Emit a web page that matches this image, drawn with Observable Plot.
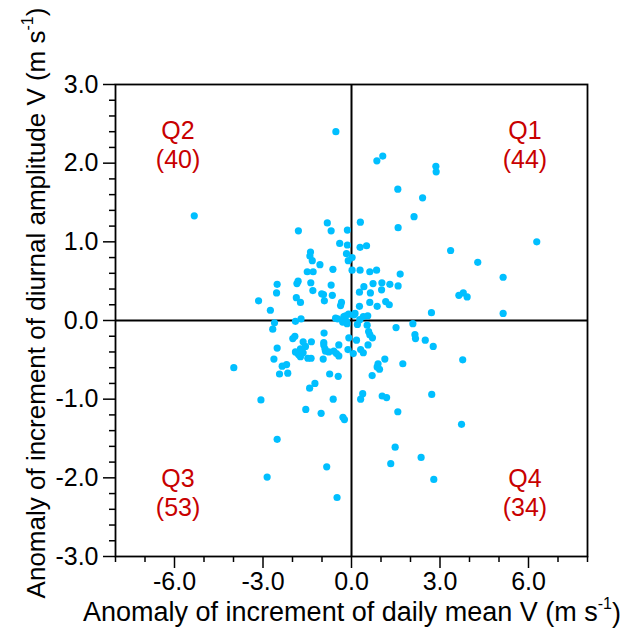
<!DOCTYPE html>
<html>
<head>
<meta charset="utf-8">
<script src="https://cdn.jsdelivr.net/npm/d3@7"></script>
<script src="https://cdn.jsdelivr.net/npm/@observablehq/plot@0.6"></script>
<style>
  html, body { margin: 0; padding: 0; background: white; }
  #chart { width: 631px; height: 632px; }
</style>
</head>
<body>
<div id="chart"></div>
<script>
// Quadrant Q1 (x>0, y>0)
const q1x = [0.86,1.06,2.86,2.87,1.57,2.41,2.12,0.30,1.58,6.28,0.29,0.51,0.02,0.02,0.29,0.62,0.85,1.65,0.42,0.73,1.03,1.30,1.58,0.27,0.64,1.02,0.62,0.87,1.16,1.28,0.27,3.36,4.28,5.14,3.64,3.79,3.92,2.71,5.14,0.08,0.28,0.40,0.55,0.12];
const q1y = [2.03,2.09,1.96,1.89,1.67,1.56,1.32,1.25,1.18,1.00,0.93,0.95,0.80,0.64,0.64,0.62,0.64,0.59,0.43,0.47,0.48,0.46,0.44,0.36,0.35,0.39,0.23,0.18,0.24,0.20,0.18,0.89,0.74,0.55,0.32,0.35,0.30,0.10,0.09,0.07,0.01,0.05,0.06,0.09];
// Quadrant Q2 (x<0, y>0)
const q2x = [-0.53,-5.33,-1.80,-0.82,-0.69,-0.14,-0.40,-0.14,-1.39,-0.17,-1.41,-1.33,-0.11,-1.07,-0.63,-1.50,-1.30,-2.52,-1.85,-1.81,-1.38,-0.69,-2.54,-1.31,-1.01,-0.95,-0.65,-3.15,-1.87,-1.73,-0.92,-0.34,-0.37,-2.75,-1.71,-0.54,-0.47,-0.20,-0.10,-0.26];
const q2y = [2.40,1.33,1.14,1.24,1.14,1.15,0.98,0.96,0.87,0.85,0.82,0.76,0.76,0.71,0.65,0.62,0.62,0.46,0.47,0.50,0.48,0.45,0.35,0.38,0.34,0.33,0.32,0.25,0.29,0.23,0.25,0.23,0.19,0.13,0.02,0.03,0.02,0.06,0.08,0.05];
// Quadrant Q3 (x<0, y<0)
const q3x = [-1.90,-0.17,-0.15,-2.61,-2.67,-0.93,-1.99,-1.92,-1.64,-1.36,-0.94,-0.94,-1.56,-1.73,-0.43,-0.09,-0.12,-1.90,-1.82,-1.73,-1.64,-1.48,-1.37,-0.88,-0.77,-0.60,-0.51,-0.43,-0.96,-2.35,-2.20,-2.44,-2.16,-0.74,-0.45,-1.24,-1.42,-0.62,-2.52,-2.63,-3.99,-3.07,-1.55,-1.03,-0.29,-0.24,-2.52,-2.86,-0.84,-0.49,-1.78,-0.90,-0.30];
const q3y = [-0.01,-0.01,-0.04,-0.03,-0.11,-0.16,-0.23,-0.20,-0.27,-0.27,-0.28,-0.31,-0.33,-0.36,-0.31,-0.22,-0.37,-0.40,-0.42,-0.46,-0.41,-0.48,-0.48,-0.39,-0.40,-0.39,-0.42,-0.45,-0.49,-0.58,-0.56,-0.68,-0.67,-0.68,-0.71,-0.80,-0.86,-1.00,-0.35,-0.49,-0.60,-1.01,-1.13,-1.18,-1.23,-1.26,-1.51,-1.99,-1.86,-2.25,-0.44,-0.36,-0.02];
// Quadrant Q4 (x>0, y<0)
const q4x = [0.53,0.58,0.62,0.71,1.51,2.08,2.15,2.17,0.17,0.06,0.31,0.40,0.56,1.13,1.74,0.90,0.87,0.95,0.70,0.38,0.31,1.04,1.19,2.50,2.77,3.77,2.72,1.57,3.73,1.48,1.33,2.36,2.79,0.20];
const q4y = [-0.06,-0.14,-0.18,-0.22,-0.09,-0.04,-0.18,-0.23,-0.25,-0.42,-0.37,-0.41,-0.31,-0.49,-0.55,-0.55,-0.59,-0.62,-0.70,-0.93,-1.00,-0.96,-0.98,-0.25,-0.33,-0.50,-0.94,-1.16,-1.32,-1.61,-1.82,-1.74,-2.02,-0.05];

// Quadrant annotations
const quadNames = ["Q1", "Q2", "Q3", "Q4"];
const quadCounts = [44, 40, 53, 34];

// Ticks
const xMajor = [-6, -3, 0, 3, 6];
const xMinor = [-8,-7,-5,-4,-2,-1,1,2,4,5,7,8];
const yMajor = [-3, -2, -1, 0, 1, 2, 3];
const yMinor = [-2.8,-2.6,-2.4,-2.2,-1.8,-1.6,-1.4,-1.2,-0.8,-0.6,-0.4,-0.2,0.2,0.4,0.6,0.8,1.2,1.4,1.6,1.8,2.2,2.4,2.6,2.8];

const xTitle = "Anomaly of increment of daily mean V (m s";
const yTitle = "Anomaly of increment of diurnal amplitude V (m s";

const points = [];
[[q1x,q1y],[q2x,q2y],[q3x,q3y],[q4x,q4y]].forEach(([xs, ys]) => {
  xs.forEach((x, i) => points.push({x, y: ys[i]}));
});

const labels = quadNames.map((name, i) => ({
  name, count: "(" + quadCounts[i] + ")",
  sx: (i === 0 || i === 3) ? 1 : -1,
  sy: (i < 2) ? 1 : -1
}));

const RED = "#c80000";
const fmt = d => d.toFixed(1);

const chart = Plot.plot({
  width: 631,
  height: 632,
  marginLeft: 115,
  marginRight: 44,
  marginTop: 84,
  marginBottom: 76,
  x: {domain: [-8, 8]},
  y: {domain: [-3, 3]},
  style: {fontFamily: "'Liberation Sans', Arial, sans-serif", fontSize: "25px", color: "black", background: "white"},
  marks: [
    Plot.ruleX([0], {stroke: "black", strokeWidth: 2}),
    Plot.ruleY([0], {stroke: "black", strokeWidth: 2}),
    Plot.dot(points, {x: "x", y: "y", r: 3.6, fill: "#00bfff", stroke: "none"}),
    Plot.text(labels, {x: d => d.sx * 5.88, y: d => d.sy > 0 ? 2.41 : -2.01, text: "name", fill: RED, fontSize: 25, textAnchor: "middle"}),
    Plot.text(labels, {x: d => d.sx * 5.88, y: d => d.sy > 0 ? 2.04 : -2.38, text: "count", fill: RED, fontSize: 25, textAnchor: "middle"}),
    Plot.frame({stroke: "black", strokeWidth: 1.8}),
    Plot.axisX({ticks: xMajor, tickSize: 12, tickPadding: 4, tickFormat: fmt, label: null, fontSize: 25, strokeWidth: 1.5}),
    Plot.axisX({ticks: xMinor, tickSize: 6, tickFormat: () => "", label: null, strokeWidth: 1.5}),
    Plot.axisY({ticks: yMajor, tickSize: 12, tickPadding: 5, tickFormat: fmt, label: null, fontSize: 25, strokeWidth: 1.5}),
    Plot.axisY({ticks: yMinor, tickSize: 6, tickFormat: () => "", label: null, strokeWidth: 1.5})
  ]
});

const svg = d3.select(chart);
const font = "'Liberation Sans', Arial, sans-serif";
function addTitle(sel, text) {
  sel.append("tspan").text(text);
  sel.append("tspan").attr("font-size", "16px").attr("dy", "-0.72em").text("-1");
  sel.append("tspan").attr("dy", "0.45em").text(")");
}
const xt = svg.append("text")
  .attr("x", 352).attr("y", 621)
  .attr("text-anchor", "middle")
  .attr("font-family", font).attr("font-size", "27px").attr("fill", "black");
addTitle(xt, xTitle);
const yt = svg.append("text")
  .attr("transform", "translate(45,303) rotate(-90)")
  .attr("text-anchor", "middle")
  .attr("font-family", font).attr("font-size", "26px").attr("fill", "black");
addTitle(yt, yTitle);

document.getElementById("chart").appendChild(chart);
</script>
</body>
</html>
